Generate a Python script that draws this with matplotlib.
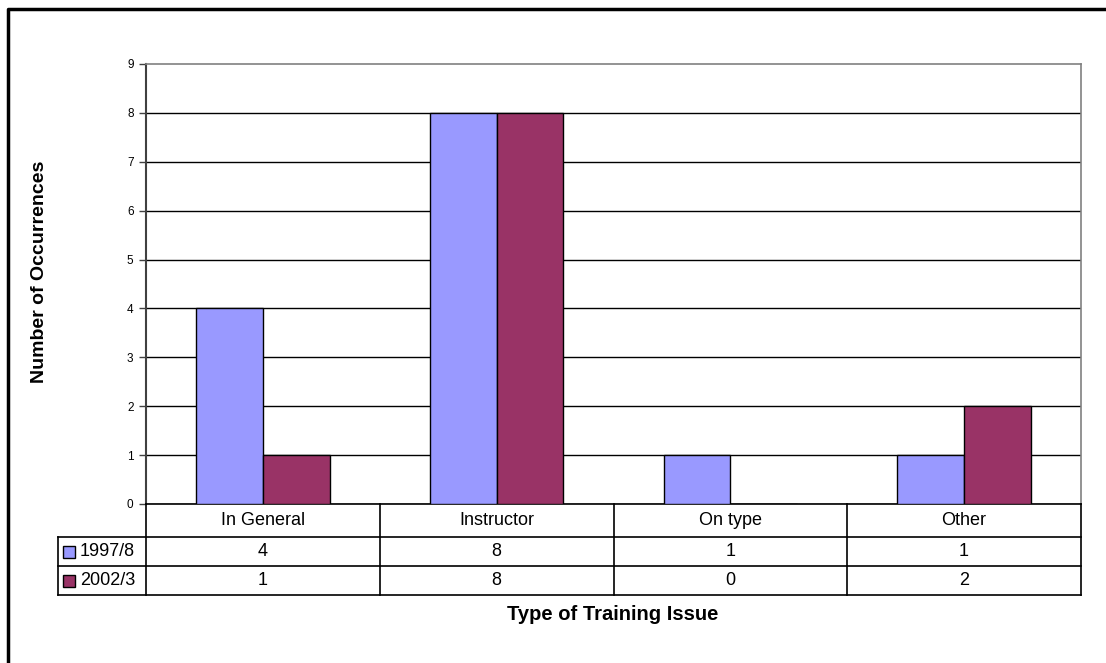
import matplotlib
matplotlib.use("Agg")
import matplotlib.pyplot as plt
from matplotlib.patches import Rectangle
from matplotlib.lines import Line2D

plt.rcParams["font.family"] = ["Liberation Sans", "DejaVu Sans"]

# ── Data ────────────────────────────────────────────────────────────────────
categories = ["In General", "Instructor", "On type", "Other"]
series_names = ["1997/8", "2002/3"]
values_1997 = [4, 8, 1, 1]
values_2002 = [1, 8, 0, 2]
y_ticks = list(range(0, 10))

# ── Colours ─────────────────────────────────────────────────────────────────
BLUE = "#9999FF"
PLUM = "#993366"
GRID = "#000000"
FRAME = "#808080"

# ── Layout (pixels) ─────────────────────────────────────────────────────────
W, H = 1106, 663
PLOT_L, PLOT_R = 146, 1081
PLOT_T, PLOT_B = 64, 504
TABLE_L, TABLE_B = 58, 595
ROWS = [0, 33, 62, 91]  # row boundaries below the x axis


def fx(px):
    return px / W


def fy(py):
    return 1 - py / H


fig = plt.figure(figsize=(W / 100, H / 100), dpi=100)
fig.patch.set_facecolor("white")

ax = fig.add_axes([fx(PLOT_L), fy(PLOT_B), fx(PLOT_R - PLOT_L), (PLOT_B - PLOT_T) / H])
x = range(len(categories))
bw = 1 / 3.5
ax.bar([i - bw / 2 for i in x], values_1997, bw, color=BLUE, edgecolor="black",
       linewidth=1, zorder=3)
ax.bar([i + bw / 2 for i in x], values_2002, bw, color=PLUM, edgecolor="black",
       linewidth=1, zorder=3)

ax.set_xlim(-0.5, len(categories) - 0.5)
ax.set_ylim(0, 9)
ax.set_yticks(y_ticks)
ax.set_xticks([])
ax.yaxis.grid(True, color=GRID, linewidth=1)
ax.get_ygridlines()[-1].set_visible(False)
ax.set_axisbelow(True)
ax.tick_params(axis="y", direction="out", length=5, width=1, color="#404040",
               labelsize=8.5, pad=4)
for side in ("top", "right"):
    ax.spines[side].set_color(FRAME)
    ax.spines[side].set_linewidth(1.2)
ax.spines["left"].set_color("#404040")
ax.spines["left"].set_linewidth(1.5)
ax.spines["bottom"].set_color("black")
ax.spines["bottom"].set_linewidth(1.2)

# ── Data table under the axis ───────────────────────────────────────────────
unit = (PLOT_R - PLOT_L) / len(categories)
x0 = -0.5 - (PLOT_L - TABLE_L) / unit
tax = fig.add_axes([fx(TABLE_L), fy(TABLE_B), fx(PLOT_R - TABLE_L), (TABLE_B - PLOT_B) / H])
tax.set_xlim(x0, len(categories) - 0.5)
tax.set_ylim(ROWS[-1], 0)
tax.axis("off")

lc = dict(color="black", linewidth=1.2, clip_on=False)
for r in ROWS[1:]:
    tax.plot([x0, len(categories) - 0.5], [r, r], **lc)
tax.plot([x0, x0], [ROWS[1], ROWS[-1]], **lc)
for b in range(len(categories) + 1):
    tax.plot([b - 0.5, b - 0.5], [0, ROWS[-1]], **lc)

for i, cat in enumerate(categories):
    tax.text(i, (ROWS[0] + ROWS[1]) / 2, cat, ha="center", va="center", fontsize=13)

for row, (name, vals, col) in enumerate(zip(series_names, [values_1997, values_2002],
                                           [BLUE, PLUM])):
    yc = (ROWS[row + 1] + ROWS[row + 2]) / 2
    tax.add_patch(Rectangle((x0 + 5 / unit, yc - 6), 12 / unit, 12, facecolor=col,
                            edgecolor="black", linewidth=1, clip_on=False))
    tax.text(x0 + 22 / unit, yc, name, ha="left", va="center", fontsize=13)
    for i, v in enumerate(vals):
        tax.text(i, yc, str(v), ha="center", va="center", fontsize=13)

# ── Axis titles ─────────────────────────────────────────────────────────────
fig.text(fx(40), fy(272), "Number of Occurrences", rotation=90, ha="center",
         va="center", fontsize=14, fontweight="bold")
fig.text(fx(613), fy(614), "Type of Training Issue", ha="center", va="center",
         fontsize=14.5, fontweight="bold")

# outer frame (only left and top edges fall inside the picture)
fig.add_artist(Line2D([fx(7.5), fx(7.5), 1.0], [0.0, fy(8.5), fy(8.5)],
                      transform=fig.transFigure, color="black", linewidth=2.5))

fig.savefig("out.png", dpi=100, facecolor="white")
plt.close(fig)
